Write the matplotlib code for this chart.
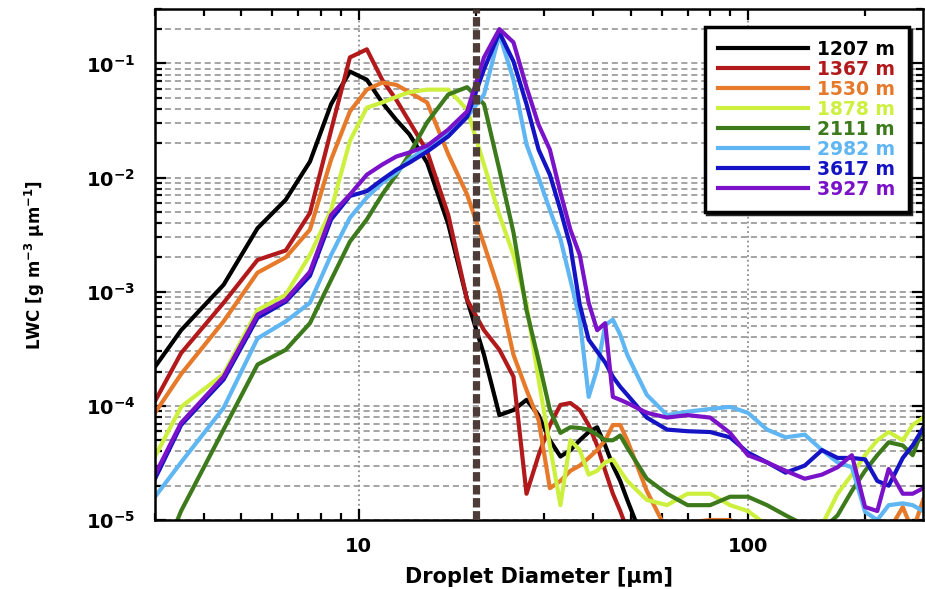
import numpy as np
import matplotlib
matplotlib.use("Agg")
from matplotlib import pyplot as plt
from matplotlib.ticker import NullFormatter, LogLocator

plt.rcParams['font.family'] = ['DejaVu Sans']
plt.rcParams['font.weight'] = 'bold'
plt.rcParams['mathtext.fontset'] = 'dejavusans'
plt.rcParams['mathtext.default'] = 'bf'
plt.rcParams['axes.unicode_minus'] = False

nan = np.nan

# droplet diameter bins [um]
diam = [3.0, 3.5, 4.5, 5.5, 6.5, 7.5, 8.5, 9.5, 10.5, 11.5, 12.5, 13.5, 15, 17, 19, 21, 23, 25,
        27, 29, 31, 33, 35, 37, 39, 41, 43, 45, 47, 49,
        55, 62, 70, 80, 90, 100, 112, 125, 140, 155, 170, 185, 200, 215, 230, 250, 265, 282]

lwc_1207 = [2.2e-4, 4.6e-4, 1.15e-3, 3.6e-3, 6.4e-3, 1.38e-2, 4.4e-2, 8.5e-2, 7.2e-2, 4.55e-2, 3.2e-2, 2.4e-2,
            1.35e-2, 3.9e-3, 8.5e-4, 2.8e-4, 8.3e-5, 9.2e-5, 1.13e-4, 8.3e-5, 5e-5, 3.6e-5, 4.1e-5, 5e-5,
            5.9e-5, 6.5e-5, 4.5e-5, 3e-5, 2.2e-5, 1.5e-5,
            5.5e-6, nan, nan, nan, nan, nan, nan, nan, nan, nan, nan, nan, nan, nan, nan, nan, nan, nan]
lwc_1367 = [1.1e-4, 2.9e-4, 8e-4, 1.9e-3, 2.3e-3, 4.9e-3, 2.6e-2, 0.113, 0.133, 7.2e-2, 4.8e-2, 3.1e-2,
            1.7e-2, 4.7e-3, 8.5e-4, 4.6e-4, 3.1e-4, 1.8e-4, 1.7e-5, 3.7e-5, 6.8e-5, 1.02e-4, 1.06e-4, 9.2e-5,
            6.8e-5, 4.5e-5, 2.7e-5, 1.7e-5, 1.2e-5, 8.2e-6,
            nan, nan, nan, nan, nan, nan, nan, nan, nan, nan, nan, nan, nan, nan, nan, nan, nan, nan]
lwc_1530 = [8.7e-5, 1.9e-4, 5.5e-4, 1.47e-3, 2e-3, 3.5e-3, 1.44e-2, 3.8e-2, 5.9e-2, 6.8e-2, 6.5e-2, 5.6e-2,
            4.55e-2, 1.6e-2, 7.1e-3, 2.6e-3, 1e-3, 2.8e-4, 1.38e-4, 7.5e-5, 1.9e-5, 2.2e-5, 2.7e-5, 3e-5,
            3.5e-5, 4.1e-5, 5e-5, 6.8e-5, 6.8e-5, 5e-5,
            1.8e-5, 8e-6, 9.5e-6, 1e-5, 1e-5, 8e-6, 5e-6, 5e-6, 5e-6, 5e-6, 5e-6, 5e-6, 5e-6, 9.5e-6,
            8e-6, 1.3e-5, 8e-6, 1.5e-5]
lwc_1878 = [3.6e-5, 9.8e-5, 1.9e-4, 6.9e-4, 9.4e-4, 2.1e-3, 5.2e-3, 2.1e-2, 4.1e-2, 4.55e-2, 5.1e-2, 5.6e-2,
            5.9e-2, 5.9e-2, 3.95e-2, 1.3e-2, 4.7e-3, 2.1e-3, 7.7e-4, 1.7e-4, 4.5e-5, 1.35e-5, 5e-5, 4.1e-5,
            2.5e-5, 2.7e-5, 3.2e-5, 3.4e-5, 2.7e-5, 2.2e-5,
            1.5e-5, 1.35e-5, 1.7e-5, 1.7e-5, 1.35e-5, 1.2e-5, 9e-6, 5e-6, 5e-6, 9e-6, 1.7e-5, 2.5e-5,
            3.7e-5, 5e-5, 5.9e-5, 5e-5, 6.8e-5, 7.9e-5]
lwc_2111 = [3.3e-6, 1.2e-5, 6.2e-5, 2.3e-4, 3.1e-4, 5.3e-4, 1.27e-3, 2.75e-3, 4.3e-3, 7.1e-3, 1.06e-2, 1.6e-2,
            3.05e-2, 5.35e-2, 6.2e-2, 4.4e-2, 1.17e-2, 3.3e-3, 6.9e-4, 2.5e-4, 9.2e-5, 5.8e-5, 6.5e-5, 6.4e-5,
            6.2e-5, 5.6e-5, 5e-5, 5e-5, 5.5e-5, 4.3e-5,
            2.3e-5, 1.7e-5, 1.35e-5, 1.35e-5, 1.6e-5, 1.6e-5, 1.35e-5, 1.1e-5, 9e-6, 8.2e-6, 1.1e-5, 1.8e-5,
            2.7e-5, 3.7e-5, 4.8e-5, 4.5e-5, 3.7e-5, 6.4e-5]
lwc_2982 = [1.6e-5, 3.2e-5, 9.6e-5, 3.9e-4, 5.5e-4, 8e-4, 2.1e-3, 4.45e-3, 6.7e-3, 9e-3, 1.1e-2, 1.44e-2,
            1.83e-2, 2.5e-2, 3.4e-2, 5.35e-2, 0.18, 7.2e-2, 1.95e-2, 1e-2, 5.2e-3, 2.9e-3, 1.27e-3, 5.7e-4,
            1.2e-4, 2.1e-4, 5.1e-4, 5.7e-4, 4.2e-4, 2.8e-4,
            1.25e-4, 8.3e-5, 8.9e-5, 9.4e-5, 9.8e-5, 8.7e-5, 6.2e-5, 5.3e-5, 5.6e-5, 4.1e-5, 3.2e-5, 2.9e-5,
            1.18e-5, 1e-5, 1.35e-5, 1.4e-5, 1.35e-5, 1.2e-5]
lwc_3617 = [2.3e-5, 6.8e-5, 1.7e-4, 5.9e-4, 8.2e-4, 1.38e-3, 4.3e-3, 6.9e-3, 7.6e-3, 9.6e-3, 1.17e-2, 1.35e-2,
            1.69e-2, 2.3e-2, 3.4e-2, 8.9e-2, 0.187, 0.104, 4.4e-2, 1.76e-2, 1.06e-2, 5.2e-3, 2.5e-3, 7.7e-4,
            3.8e-4, 3e-4, 2.4e-4, 1.8e-4, 1.47e-4, 1.25e-4,
            7.9e-5, 6.2e-5, 6e-5, 5.9e-5, 5.3e-5, 3.9e-5, 3.2e-5, 2.6e-5, 3e-5, 4.1e-5, 3.5e-5, 3.5e-5,
            3.4e-5, 2.2e-5, 2e-5, 3.5e-5, 4.5e-5, 6.4e-5]
lwc_3927 = [2.5e-5, 7.1e-5, 1.8e-4, 6.3e-4, 8.5e-4, 1.5e-3, 4.7e-3, 7.1e-3, 1.06e-2, 1.3e-2, 1.53e-2, 1.66e-2,
            1.9e-2, 2.64e-2, 3.8e-2, 0.113, 0.2, 0.153, 6.2e-2, 2.9e-2, 1.76e-2, 7.4e-3, 3.5e-3, 2.1e-3,
            8e-4, 4.6e-4, 5.3e-4, 1.2e-4, 1.13e-4, 1.06e-4,
            8.7e-5, 7.9e-5, 8.3e-5, 7.9e-5, 5.8e-5, 3.7e-5, 3.2e-5, 2.7e-5, 2.3e-5, 2.5e-5, 2.9e-5, 3.7e-5,
            1.3e-5, 1.2e-5, 2.8e-5, 1.7e-5, 1.7e-5, 1.9e-5]

labels = ['1207 m', '1367 m', '1530 m', '1878 m', '2111 m', '2982 m', '3617 m', '3927 m']
colors = ['#000000', '#b2191b', '#e6792a', '#cdf03f', '#3d7a1c', '#5fb6f2', '#1414c4', '#7a12c9']
series = [lwc_1207, lwc_1367, lwc_1530, lwc_1878, lwc_2111, lwc_2982, lwc_3617, lwc_3927]

cut_diam = 20  # um

fig = plt.figure(figsize=(9.25, 5.89), dpi=100)
ax = fig.add_axes([0.1676, 0.1171, 0.8304, 0.8676])

for lwc, lab, c in zip(series, labels, colors):
    ax.plot(diam, lwc, color=c, lw=3.0, label=lab)

ax.axvline(cut_diam, color='#4d3c38', lw=5.2, dashes=(1.3, 0.5), zorder=5)

ax.set_xscale('log')
ax.set_yscale('log')
ax.set_xlim(3.0, 282)
ax.set_ylim(1e-5, 0.3)

ax.set_xticks([10, 100], ['10', '100'])
ax.xaxis.set_minor_formatter(NullFormatter())
ax.yaxis.set_major_locator(LogLocator(base=10, numticks=10))
ax.yaxis.set_minor_locator(LogLocator(base=10, subs=np.arange(2, 10), numticks=20))
ax.yaxis.set_minor_formatter(NullFormatter())

ax.grid(True, axis='y', which='both', color='#8c8c8c', ls=(0, (4, 2.5)), lw=1.1)
ax.grid(True, axis='x', which='major', color='#8c8c8c', ls=':', lw=1.3)

ax.tick_params(which='both', direction='in', top=True, right=True, width=1.6)
ax.tick_params(which='major', length=8, labelsize=14)
ax.tick_params(axis='x', which='major', pad=12)
ax.tick_params(axis='y', which='major', pad=14)
ax.tick_params(which='minor', length=5)
for s in ax.spines.values():
    s.set_linewidth(1.8)

ax.set_xlabel('Droplet Diameter [µm]', fontsize=15, fontweight='bold', labelpad=8)
ax.set_ylabel('LWC [g m$^{-3}$ µm$^{-1}$]', fontsize=12, fontweight='bold', labelpad=28)

leg = ax.legend(loc='upper right', bbox_to_anchor=(0.981, 0.965), borderaxespad=0,
                fancybox=False, shadow={'color': 'black', 'alpha': 0.85}, framealpha=1,
                edgecolor='black', handlelength=4.8, handletextpad=0.5,
                labelspacing=0.05, borderpad=0.7, prop={'weight': 'bold', 'size': 13.5})
leg.get_frame().set_linewidth(2.5)
for t, c in zip(leg.get_texts(), colors):
    t.set_color(c)
leg.set_zorder(10)

fig.savefig('out.png', dpi=100)
